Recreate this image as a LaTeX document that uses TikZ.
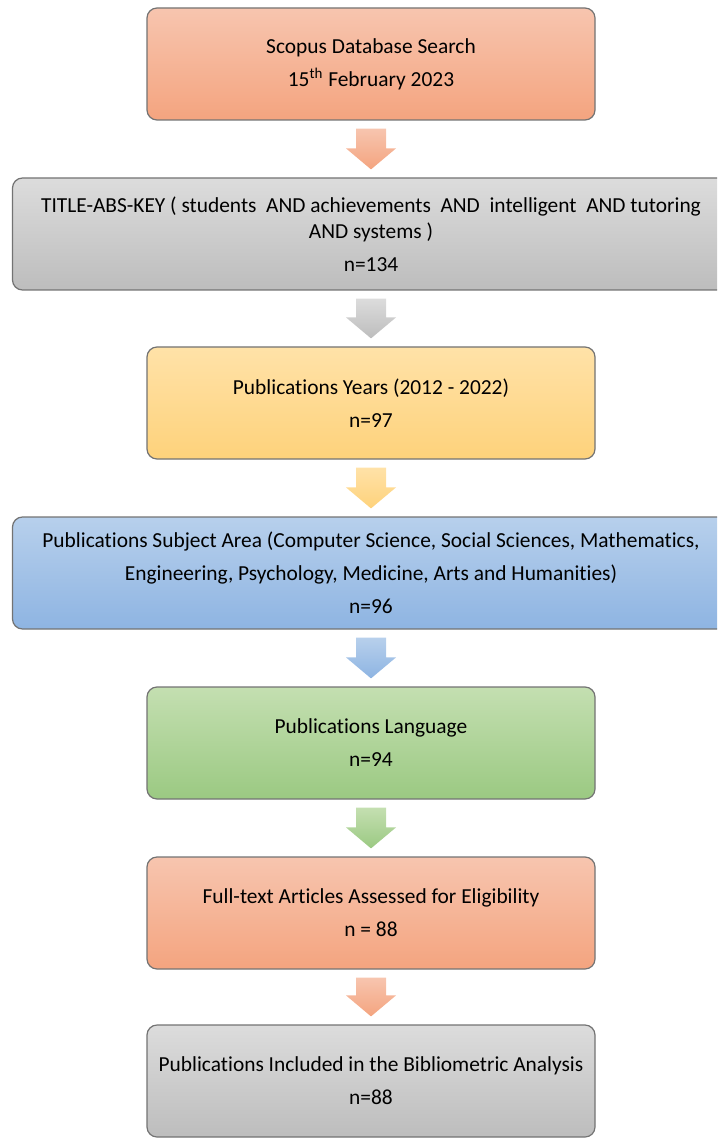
\documentclass[tikz,border=0pt]{standalone}
\usepackage{fontspec}
\setmainfont{Carlito}[RawFeature={-liga;-clig;-calt;-dlig}]
\usetikzlibrary{calc}
\definecolor{salmonT}{HTML}{F7C5AF}
\definecolor{salmonB}{HTML}{F4A47F}
\definecolor{grayT}{HTML}{DCDCDC}
\definecolor{grayB}{HTML}{BDBDBD}
\definecolor{yellowT}{HTML}{FFE2A8}
\definecolor{yellowB}{HTML}{FED27B}
\definecolor{blueT}{HTML}{B7D0EC}
\definecolor{blueB}{HTML}{8EB4E2}
\definecolor{greenT}{HTML}{C4DFB1}
\definecolor{greenB}{HTML}{9BC982}
\tikzset{
  flowbox/.style={draw=black!55, line width=0.6pt, rounded corners=5pt, minimum height=56pt,
    inner sep=0pt, align=center, font=\fontsize{10.7}{16.5}\selectfont},
  narrowbox/.style={flowbox, minimum width=224pt},
  widebox/.style={flowbox, minimum width=358.5pt},
}
\newcommand{\blockarrow}[3]{%
  \path[top color=#3T, bottom color=#3B]
    ($(#1.south)+(-15,8)$) -- ($(#1.south)+(15,8)$) -- ($(#2.north)+(15,-29)$)
    -- ($(#2.north)+(25,-29)$) -- ($(#2.north)+(0,-8)$) -- ($(#2.north)+(-25,-29)$)
    -- ($(#2.north)+(-15,-29)$) -- cycle;}
\begin{document}
\begin{tikzpicture}[x=0.5pt,y=-0.5pt]
\useasboundingbox (0,0) rectangle (717,1138);
\clip (0,0) rectangle (717,1138);
\node[narrowbox, top color=salmonT, bottom color=salmonB] (search) at (371,64)
  {Scopus Database Search\\15\textsuperscript{th} February 2023};
\node[widebox, top color=grayT, bottom color=grayB] (query) at (371,234)
  {TITLE-ABS-KEY ( students\ \ AND achievements\ \ AND\ \ intelligent\ \ AND tutoring\\[-3.5pt]AND systems )\\n=134};
\node[narrowbox, top color=yellowT, bottom color=yellowB] (years) at (371,403)
  {Publications Years (2012 - 2022)\\n=97};
\node[widebox, top color=blueT, bottom color=blueB] (subject) at (371,573)
  {Publications Subject Area (Computer Science, Social Sciences, Mathematics,\\Engineering, Psychology, Medicine, Arts and Humanities)\\n=96};
\node[narrowbox, top color=greenT, bottom color=greenB] (language) at (371,743)
  {Publications Language\\n=94};
\node[narrowbox, top color=salmonT, bottom color=salmonB] (fulltext) at (371,913)
  {Full-text Articles Assessed for Eligibility\\n = 88};
\node[narrowbox, top color=grayT, bottom color=grayB] (included) at (371,1081)
  {Publications Included in the Bibliometric Analysis\\n=88};
\blockarrow{search}{query}{salmon}
\blockarrow{query}{years}{gray}
\blockarrow{years}{subject}{yellow}
\blockarrow{subject}{language}{blue}
\blockarrow{language}{fulltext}{green}
\blockarrow{fulltext}{included}{salmon}
\end{tikzpicture}
\end{document}
